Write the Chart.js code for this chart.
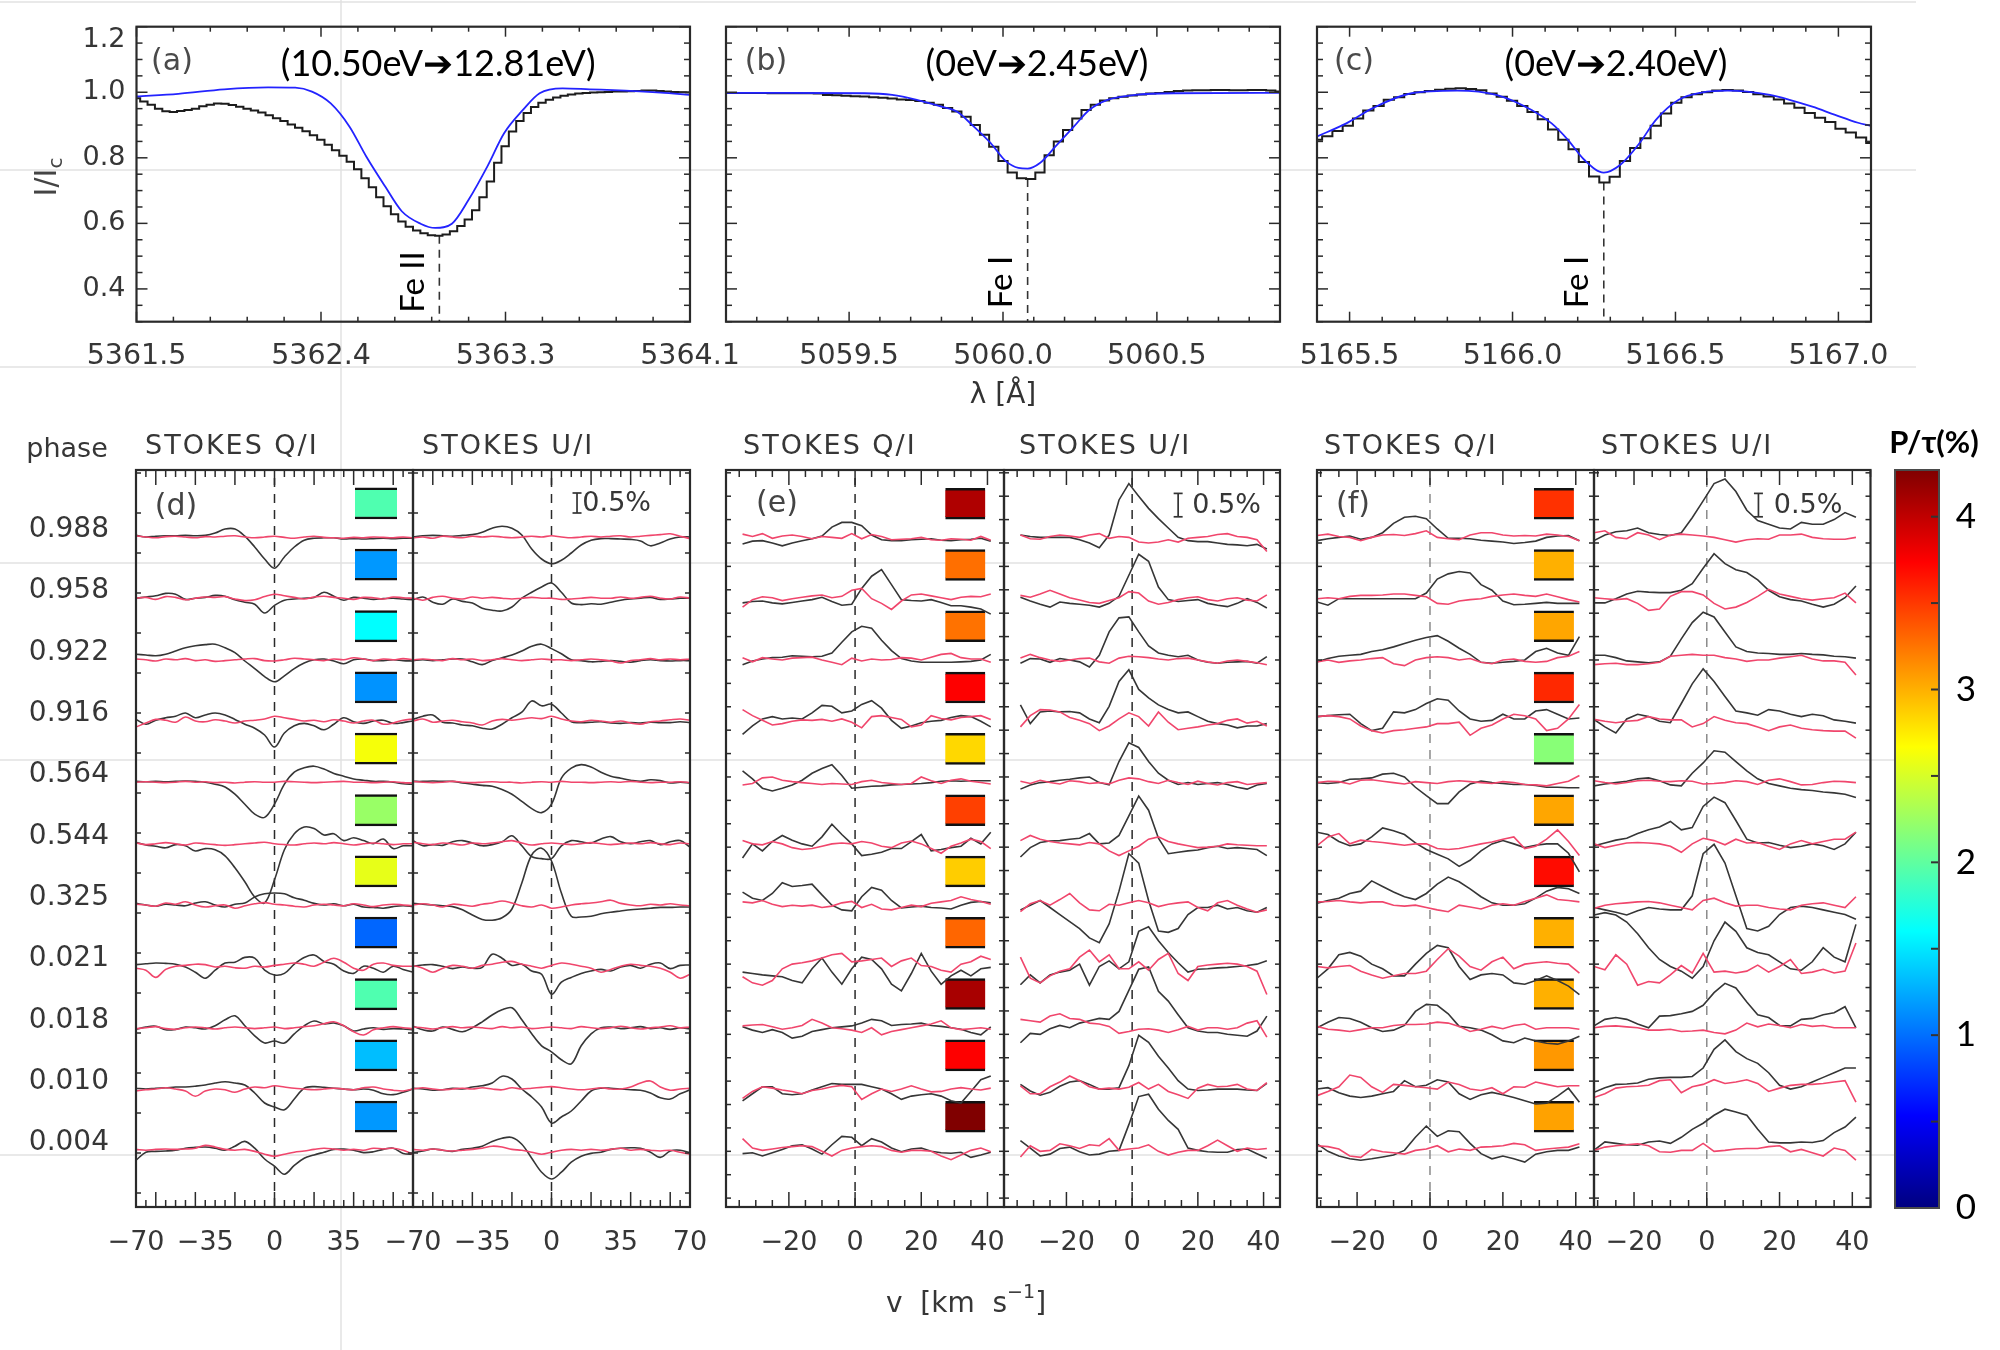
<!DOCTYPE html>
<html>
<head>
<meta charset="utf-8">
<script src="https://cdn.jsdelivr.net/npm/chart.js@4.4.0/dist/chart.umd.min.js"></script>
<style>
  html, body { margin: 0; padding: 0; background: #fff; }
  #wrap { position: relative; width: 2000px; height: 1350px; overflow: hidden; background: #fff; }
  #wrap canvas { position: absolute; left: 0; top: 0; }
</style>
</head>
<body>
<div id="wrap"></div>
<script>
// ---------- top row: intensity profiles ----------
const aBinStart = 5361.5, aBinWidth = 0.0353;
const aObs = [0.982,0.972,0.962,0.950,0.942,0.940,0.943,0.946,0.950,0.957,0.962,0.966,0.965,0.961,0.956,0.950,0.944,0.938,0.930,0.921,0.912,0.902,0.892,0.881,0.869,0.855,0.840,0.823,0.806,0.788,0.765,0.738,0.710,0.680,0.652,0.628,0.606,0.590,0.578,0.570,0.564,0.562,0.566,0.576,0.592,0.612,0.640,0.680,0.728,0.785,0.835,0.880,0.912,0.937,0.955,0.968,0.977,0.984,0.989,0.993,0.996,0.998,0.999,1.000,1.001,1.002,1.002,1.003,1.004,1.005,1.005,1.004,1.002,1.001,1.000,0.999];
const aFitLam = [5361.50,5361.70,5361.92,5362.13,5362.26,5362.34,5362.43,5362.52,5362.60,5362.69,5362.77,5362.86,5362.93,5363.01,5363.09,5363.18,5363.26,5363.35,5363.43,5363.54,5363.67,5363.84,5364.01,5364.15];
const aFit = [0.987,0.995,1.009,1.015,1.014,1.002,0.966,0.895,0.804,0.713,0.637,0.599,0.586,0.599,0.672,0.774,0.875,0.946,0.997,1.012,1.009,1.005,0.999,0.992];

const bBinStart = 5059.1, bBinWidth = 0.03;
const bObs = [0.998,0.998,0.998,0.998,0.998,0.997,0.997,0.997,0.997,0.997,0.996,0.992,0.991,0.989,0.988,0.987,0.985,0.983,0.981,0.978,0.976,0.973,0.968,0.962,0.952,0.941,0.925,0.900,0.870,0.834,0.790,0.755,0.738,0.735,0.755,0.808,0.850,0.885,0.920,0.946,0.962,0.975,0.982,0.986,0.990,0.993,0.996,0.998,1.001,1.004,1.005,1.006,1.006,1.007,1.007,1.006,1.006,1.007,1.007,1.005,1.002];
const bFitLam = [5059.10,5059.30,5059.55,5059.64,5059.72,5059.80,5059.85,5059.90,5059.96,5060.01,5060.05,5060.08,5060.12,5060.17,5060.23,5060.28,5060.34,5060.43,5060.56,5060.90];
const bFit = [0.998,0.998,0.997,0.992,0.977,0.956,0.941,0.900,0.845,0.789,0.769,0.767,0.784,0.834,0.895,0.946,0.977,0.992,0.997,0.998];

const cBinStart = 5165.4, cBinWidth = 0.0315;
const cObs = [0.855,0.866,0.882,0.898,0.920,0.944,0.958,0.977,0.985,0.995,1.000,1.004,1.008,1.011,1.012,1.010,1.006,0.996,0.986,0.974,0.958,0.940,0.918,0.886,0.855,0.826,0.787,0.743,0.725,0.742,0.790,0.830,0.860,0.898,0.935,0.968,0.985,0.994,1.000,1.005,1.007,1.005,1.001,0.994,0.987,0.978,0.966,0.953,0.937,0.922,0.909,0.889,0.877,0.862,0.845];
const cFitLam = [5165.40,5165.49,5165.57,5165.69,5165.83,5165.95,5166.06,5166.12,5166.17,5166.22,5166.28,5166.33,5166.39,5166.44,5166.51,5166.58,5166.66,5166.72,5166.79,5166.85,5166.92,5166.99,5167.06,5167.10];
const cFit = [0.865,0.905,0.951,0.997,1.005,0.992,0.945,0.905,0.855,0.794,0.755,0.778,0.845,0.916,0.977,0.999,1.005,1.002,0.992,0.977,0.956,0.931,0.907,0.897];

const lineCenters = [5362.95, 5060.08, 5166.28];
const lineDepths = [0.562, 0.735, 0.725];
const lineIons = ['Fe II', 'Fe I', 'Fe I'];
const transitions = ['(10.50eV\u279412.81eV)', '(0eV\u27942.45eV)', '(0eV\u27942.40eV)'];
const aTickLabels = ['5361.5', '5362.4', '5363.3', '5364.1'];

// ---------- bottom rows: Stokes Q/I and U/I (deviation in %) ----------
const phases = ['0.988','0.958','0.922','0.916','0.564','0.544','0.325','0.021','0.018','0.010','0.004'];
const dVel = [-70,-65,-60,-55,-50,-45,-40,-35,-30,-25,-20,-15,-10,-5,0,5,10,15,20,25,30,35,40,45,50,55,60,65,70];
const eVel = [-34,-31,-28,-25,-22,-19,-16,-13,-10,-7,-4,-1,2,5,8,11,14,17,20,23,26,29,32,35,38,41];
const fVel = [-31,-28,-25,-22,-19,-16,-13,-10,-7,-4,-1,2,5,8,11,14,17,20,23,26,29,32,35,38,41];

const dQobs = [
[0.04,0.00,0.02,0.03,0.03,0.04,0.03,0.04,0.10,0.20,0.20,0.02,-0.25,-0.55,-0.78,-0.50,-0.25,-0.08,-0.03,-0.02,-0.02,-0.05,-0.04,-0.05,-0.04,-0.03,-0.04,-0.03,-0.03],
[0.00,0.03,0.06,0.12,0.10,-0.03,0.00,0.02,0.07,0.05,-0.04,-0.10,-0.15,-0.37,-0.18,-0.05,-0.02,0.00,0.02,0.15,0.05,-0.05,0.02,0.00,-0.03,-0.01,0.00,-0.02,-0.04],
[0.14,0.12,0.10,0.14,0.22,0.30,0.35,0.38,0.39,0.30,0.18,-0.03,-0.22,-0.42,-0.55,-0.40,-0.22,-0.08,0.00,0.02,-0.03,-0.10,0.00,0.02,-0.02,-0.02,0.00,-0.02,-0.03],
[0.04,-0.08,0.02,0.08,0.12,0.20,0.08,0.15,0.20,0.15,0.04,-0.08,-0.18,-0.35,-0.65,-0.30,-0.12,-0.06,-0.12,-0.22,-0.08,0.08,-0.02,-0.06,0.00,0.02,-0.06,-0.04,0.00],
[0.02,0.01,0.02,0.01,0.02,0.03,0.02,0.00,-0.05,-0.12,-0.30,-0.55,-0.80,-0.88,-0.55,-0.05,0.25,0.36,0.40,0.33,0.22,0.15,0.08,0.05,0.02,0.02,0.00,-0.04,-0.05],
[0.04,-0.03,-0.06,-0.10,-0.02,-0.05,-0.18,-0.12,-0.15,-0.30,-0.60,-0.95,-1.33,-1.48,-0.90,-0.15,0.25,0.42,0.38,0.22,0.25,0.08,0.15,0.08,0.00,0.12,-0.12,-0.05,-0.05],
[0.04,0.00,-0.03,0.02,0.00,-0.02,0.05,0.08,0.00,-0.05,0.02,0.05,0.20,0.28,0.30,0.28,0.18,0.12,0.04,0.00,0.03,-0.02,0.02,-0.05,-0.06,-0.08,-0.04,-0.02,-0.04],
[0.04,0.06,0.08,0.07,0.05,-0.02,-0.15,-0.30,-0.10,0.08,0.10,0.22,0.20,-0.10,-0.22,-0.18,0.05,0.22,0.28,0.12,0.05,-0.12,-0.18,0.00,-0.05,-0.15,0.00,-0.08,-0.15],
[-0.04,0.02,0.04,-0.05,-0.04,0.02,0.00,-0.03,0.05,0.20,0.30,0.05,-0.20,-0.38,-0.33,-0.38,-0.15,0.05,0.17,0.10,0.12,0.05,-0.08,-0.03,0.00,-0.04,-0.02,-0.03,-0.05],
[0.02,0.00,0.02,0.03,0.05,0.05,0.07,0.10,0.15,0.18,0.15,0.10,-0.10,-0.35,-0.45,-0.52,-0.25,0.02,0.06,0.04,0.02,0.00,-0.02,0.00,-0.03,-0.12,-0.14,-0.08,0.00],
[-0.25,-0.05,-0.03,-0.02,0.00,0.05,0.07,0.08,0.05,0.00,0.10,0.22,0.05,-0.22,-0.40,-0.60,-0.38,-0.20,-0.12,-0.05,0.02,0.03,0.00,-0.06,-0.04,0.02,0.05,-0.08,-0.10]];
const dQnull = [
[0.03,0.00,-0.02,0.01,0.02,0.00,-0.02,0.01,0.00,0.02,0.03,0.00,-0.02,0.00,0.02,-0.01,-0.03,0.00,0.02,-0.01,-0.02,-0.03,-0.01,-0.02,0.00,-0.01,-0.02,0.00,-0.02],
[0.00,0.02,-0.03,0.04,0.02,-0.04,0.00,0.03,0.02,0.04,-0.02,-0.06,-0.04,0.04,0.10,0.06,0.02,-0.02,0.03,0.05,0.02,0.00,-0.03,0.02,0.01,-0.02,0.03,0.01,0.00],
[0.02,0.00,-0.03,0.02,0.00,0.03,-0.02,0.00,-0.04,-0.02,0.00,0.02,0.03,-0.02,-0.03,0.00,0.04,0.02,0.00,-0.02,0.02,0.00,0.05,0.02,-0.02,0.02,0.00,0.03,0.00],
[-0.15,-0.05,0.04,0.02,-0.03,0.10,0.00,-0.02,0.03,0.00,-0.05,0.00,0.02,0.05,0.12,0.08,0.04,0.00,0.02,-0.02,0.03,0.00,-0.05,0.00,0.02,-0.08,-0.05,0.02,0.05],
[0.00,0.01,0.00,-0.01,0.00,0.02,0.00,0.01,-0.01,0.00,-0.02,0.00,0.01,0.00,0.00,0.02,0.01,0.00,-0.01,0.00,0.01,0.02,0.00,0.00,-0.01,0.00,0.01,-0.01,-0.02],
[0.02,-0.02,0.00,0.03,0.00,-0.03,0.02,0.00,-0.02,-0.04,-0.02,0.00,0.02,0.04,0.00,-0.02,-0.03,0.00,0.02,0.00,0.03,0.00,-0.03,0.00,0.02,0.00,-0.02,0.00,0.00],
[0.02,0.00,-0.03,0.05,0.02,0.08,0.00,-0.05,-0.02,0.00,-0.08,-0.02,0.03,0.06,0.02,0.00,-0.03,-0.05,0.00,0.02,0.00,-0.02,0.03,0.00,-0.04,0.00,0.02,0.00,-0.02],
[-0.05,-0.10,-0.28,-0.08,0.00,0.02,0.05,0.04,-0.02,0.00,-0.04,-0.05,0.00,-0.02,0.02,0.05,0.08,0.05,0.00,0.10,0.20,0.10,-0.05,-0.10,0.05,0.08,0.02,0.00,0.00],
[-0.02,0.00,0.03,-0.02,-0.04,0.00,0.02,0.00,-0.03,0.00,0.02,0.00,-0.02,0.00,0.02,-0.02,0.00,0.03,0.05,0.10,0.15,0.05,-0.10,-0.18,-0.05,0.00,0.03,0.00,-0.02],
[-0.05,-0.02,0.00,0.03,0.00,-0.05,-0.18,-0.05,0.00,-0.02,-0.08,0.00,0.05,0.03,0.08,0.05,0.02,0.00,-0.02,0.00,0.02,0.00,-0.02,0.03,0.05,0.00,-0.03,-0.05,0.00],
[0.02,0.00,0.02,0.03,0.02,0.03,0.05,0.12,0.08,0.02,0.00,0.02,-0.03,-0.10,-0.15,-0.10,-0.05,-0.02,0.02,0.05,0.03,0.00,0.02,0.00,0.05,0.03,0.05,0.00,-0.10]];
const dUobs = [
[0.00,0.03,0.04,0.03,0.02,0.04,0.06,0.12,0.22,0.27,0.22,0.05,-0.30,-0.55,-0.67,-0.58,-0.40,-0.20,-0.08,-0.04,-0.04,-0.05,-0.06,-0.10,-0.22,-0.15,-0.05,0.00,0.00],
[-0.04,0.03,-0.10,-0.15,-0.02,-0.08,-0.12,-0.25,-0.30,-0.32,-0.22,0.00,0.15,0.28,0.38,0.15,-0.12,-0.16,-0.14,-0.15,-0.10,-0.05,-0.02,0.00,0.02,-0.03,-0.02,0.00,0.00],
[-0.02,0.00,-0.02,0.00,0.02,0.02,-0.05,-0.12,-0.02,0.05,0.12,0.22,0.34,0.39,0.28,0.15,0.00,-0.02,-0.05,-0.04,-0.02,-0.04,-0.06,-0.02,0.00,-0.02,-0.03,-0.02,-0.02],
[0.04,0.12,0.15,-0.03,-0.05,-0.10,-0.12,-0.18,-0.20,-0.08,0.08,0.22,0.50,0.38,0.42,0.20,-0.02,-0.04,-0.03,-0.02,-0.05,-0.06,-0.04,-0.05,-0.03,-0.04,-0.04,-0.02,-0.04],
[0.02,0.02,0.03,0.02,0.02,-0.02,-0.05,-0.08,-0.10,-0.18,-0.30,-0.48,-0.66,-0.76,-0.55,0.10,0.35,0.44,0.38,0.25,0.15,0.10,0.05,0.02,0.06,0.04,-0.02,0.00,-0.02],
[0.08,-0.05,-0.02,-0.04,0.05,0.08,0.02,-0.05,-0.02,0.05,0.20,-0.05,-0.32,-0.37,-0.37,-0.05,0.08,0.05,0.02,0.12,0.18,0.05,0.00,0.05,0.08,-0.02,0.05,0.08,-0.08],
[0.04,0.02,0.00,-0.02,-0.04,-0.12,-0.25,-0.36,-0.38,-0.32,-0.10,0.55,1.25,1.42,1.10,0.30,-0.28,-0.30,-0.28,-0.22,-0.18,-0.15,-0.12,-0.10,-0.08,-0.06,-0.06,-0.05,-0.05],
[0.00,0.03,0.04,0.00,-0.06,-0.02,-0.05,-0.03,0.30,0.20,0.02,0.05,-0.12,-0.20,-0.70,-0.40,-0.28,-0.18,-0.12,-0.08,-0.12,-0.02,0.02,-0.05,0.05,0.08,-0.06,0.02,0.03],
[0.04,-0.05,-0.08,0.02,-0.04,-0.10,0.00,0.15,0.32,0.45,0.50,0.20,-0.15,-0.45,-0.60,-0.80,-0.90,-0.45,-0.15,0.00,0.02,-0.02,0.00,0.03,-0.02,0.00,-0.04,0.00,-0.03],
[0.02,0.00,-0.03,-0.02,0.02,0.00,0.05,0.08,0.15,0.32,0.25,0.00,-0.20,-0.45,-0.85,-0.70,-0.55,-0.30,-0.05,0.02,0.02,0.00,-0.02,-0.03,-0.10,-0.22,-0.25,-0.12,-0.02],
[-0.06,-0.02,0.03,0.00,-0.03,0.02,0.05,0.10,0.22,0.30,0.32,0.15,-0.20,-0.55,-0.72,-0.55,-0.30,-0.15,-0.08,-0.05,0.02,0.05,0.06,0.05,-0.05,-0.18,-0.02,0.00,-0.06]];
const dUnull = [
[-0.02,0.00,-0.03,0.02,0.00,-0.02,0.02,0.00,0.02,0.00,-0.02,0.00,0.02,0.00,0.03,0.00,-0.02,0.00,0.02,0.00,0.02,0.03,0.00,0.02,0.04,0.06,0.08,0.02,-0.04],
[0.00,-0.05,0.02,0.05,0.00,-0.02,0.03,0.00,0.02,0.00,-0.02,0.00,0.02,0.00,0.00,-0.03,-0.02,0.00,0.02,0.00,0.00,0.03,0.00,0.02,0.05,0.00,-0.02,0.03,0.00],
[0.00,0.02,0.00,-0.02,0.03,0.00,0.02,-0.02,0.00,0.03,0.00,-0.02,0.00,0.02,0.00,0.00,-0.02,0.00,0.02,0.00,-0.03,-0.08,-0.02,0.00,0.03,0.00,0.02,0.00,0.02],
[0.00,0.05,-0.03,0.00,0.02,-0.02,-0.05,-0.10,0.00,0.04,0.02,0.05,0.08,0.06,0.12,0.05,0.00,-0.02,0.02,0.00,-0.03,0.00,-0.05,-0.08,-0.02,0.00,0.03,0.05,0.02],
[0.02,0.00,-0.01,0.00,0.02,0.00,-0.01,0.00,0.01,0.00,0.00,-0.02,0.00,0.01,0.00,0.02,0.00,0.00,-0.01,0.00,0.01,0.00,0.02,0.00,-0.01,0.00,0.00,0.01,-0.01],
[0.04,0.00,-0.02,0.02,0.00,-0.03,0.02,0.00,0.02,0.05,0.08,0.02,-0.03,0.00,0.02,0.00,-0.02,0.00,0.03,0.00,-0.02,0.00,0.02,0.00,0.03,0.00,-0.02,0.02,0.00],
[0.00,0.03,0.00,-0.05,0.02,0.00,-0.03,0.02,0.05,0.10,0.05,-0.02,-0.05,0.00,-0.08,-0.05,0.00,0.03,0.05,0.08,0.12,0.04,0.00,-0.02,0.02,0.00,0.03,0.00,-0.02],
[0.02,-0.05,-0.15,-0.05,0.02,0.00,-0.05,0.02,0.05,0.10,0.12,0.05,0.00,-0.05,0.02,0.08,0.05,0.00,-0.05,-0.15,-0.08,0.00,0.05,0.02,0.00,-0.05,-0.15,-0.30,-0.20],
[0.02,0.00,-0.03,0.00,0.03,0.00,0.02,0.00,-0.02,0.03,0.00,0.02,-0.02,0.00,0.02,0.00,-0.02,0.03,0.00,-0.02,0.00,0.04,0.00,-0.03,0.00,0.02,0.05,0.00,0.02],
[0.00,0.03,0.00,-0.02,0.00,0.02,0.00,0.03,0.00,-0.02,0.03,0.00,0.02,0.04,0.06,0.03,0.00,-0.02,0.00,0.03,0.00,0.00,0.05,0.15,0.20,0.05,-0.03,0.00,0.02],
[0.02,0.00,0.03,0.00,-0.02,0.00,0.02,0.05,0.10,0.08,0.02,0.00,-0.05,-0.10,-0.05,0.00,0.02,0.00,0.02,0.00,0.02,0.05,0.00,0.02,0.00,-0.02,0.00,-0.05,-0.10]];

const eQobs = [
[-0.14,-0.08,-0.07,-0.12,-0.18,-0.12,-0.07,-0.03,0.03,0.22,0.32,0.32,0.25,0.05,-0.05,-0.07,-0.07,-0.05,-0.04,-0.03,-0.06,-0.07,-0.05,-0.04,-0.02,-0.08],
[-0.09,-0.06,-0.05,-0.09,-0.11,-0.08,-0.05,-0.02,0.03,-0.06,-0.14,-0.12,0.22,0.48,0.62,0.30,-0.02,-0.04,-0.05,-0.02,-0.08,-0.15,-0.15,-0.18,-0.22,-0.33],
[-0.10,-0.02,0.02,0.05,0.06,0.09,0.08,0.07,0.08,0.15,0.38,0.60,0.72,0.68,0.42,0.20,0.03,-0.02,-0.05,-0.05,-0.05,-0.05,-0.04,-0.03,0.00,0.12],
[-0.28,-0.10,0.05,0.10,0.05,0.07,0.05,0.18,0.34,0.32,0.18,0.22,0.36,0.44,0.28,0.02,-0.15,-0.10,-0.03,0.00,0.02,0.08,0.12,0.10,0.00,-0.12],
[0.25,0.08,-0.12,-0.18,-0.12,-0.05,0.05,0.20,0.30,0.38,0.15,-0.12,-0.10,-0.08,-0.07,-0.05,-0.04,-0.03,-0.02,0.00,0.03,0.04,0.03,0.04,0.04,0.04],
[-0.30,0.00,-0.15,0.05,0.18,0.08,0.00,-0.05,0.15,0.42,0.20,0.00,-0.25,-0.22,-0.18,-0.10,-0.10,0.05,0.20,-0.15,-0.12,-0.08,-0.05,0.12,0.00,0.25],
[0.28,0.15,0.10,0.25,0.48,0.40,0.42,0.45,0.22,0.00,-0.10,-0.12,0.18,0.38,0.32,0.10,-0.06,-0.04,-0.02,-0.05,-0.06,-0.08,0.00,0.06,0.08,0.05],
[-0.12,-0.15,-0.18,-0.20,-0.22,-0.30,-0.35,-0.05,0.18,-0.12,-0.38,-0.05,0.20,0.15,-0.05,-0.38,-0.52,-0.15,0.28,-0.10,-0.38,-0.20,-0.08,-0.20,-0.05,-0.02],
[0.02,-0.05,-0.10,-0.04,-0.10,-0.22,-0.18,-0.08,-0.04,0.00,0.02,0.04,0.10,0.18,0.15,0.05,0.07,0.08,0.10,0.05,0.03,0.00,-0.03,-0.10,-0.15,0.02],
[-0.25,-0.10,0.05,0.05,-0.10,-0.12,-0.10,-0.02,0.05,0.12,0.10,0.10,0.10,0.05,0.00,-0.10,-0.22,-0.15,-0.12,-0.10,-0.15,-0.25,-0.30,-0.05,0.20,0.28],
[-0.07,-0.05,-0.12,-0.05,0.02,0.10,0.12,0.03,-0.08,0.12,0.30,0.28,0.10,0.25,0.18,0.05,-0.03,0.03,0.05,-0.02,-0.05,-0.06,-0.04,-0.15,-0.10,-0.04]];
const eQnull = [
[0.07,0.02,0.08,-0.02,0.03,0.05,0.02,-0.03,0.02,0.00,-0.02,0.08,-0.03,0.06,0.02,-0.05,-0.04,-0.03,0.00,-0.05,-0.06,-0.03,-0.04,-0.06,0.02,-0.06],
[-0.18,-0.02,0.04,0.02,-0.04,0.00,0.03,0.06,0.08,0.02,0.05,0.18,0.22,0.00,-0.10,-0.23,-0.05,0.08,0.10,0.06,0.02,-0.02,0.03,0.05,0.04,0.10],
[0.05,-0.04,0.05,0.02,0.00,0.04,0.05,0.06,0.00,-0.05,-0.10,0.04,-0.02,0.02,0.00,0.01,0.05,0.04,0.00,0.06,0.12,0.14,0.05,0.02,0.02,-0.05],
[0.25,0.12,0.02,-0.08,-0.05,0.00,0.03,0.02,0.04,0.00,0.05,-0.02,-0.14,0.10,0.12,0.08,0.04,-0.12,-0.08,0.12,0.06,0.03,0.08,0.10,0.12,0.04],
[-0.05,-0.02,0.10,0.12,0.05,0.02,0.00,-0.02,-0.04,-0.02,-0.03,-0.04,0.02,0.05,0.00,-0.02,-0.04,-0.02,0.12,0.04,-0.02,0.05,0.08,0.03,0.00,-0.03],
[0.07,0.00,-0.02,0.05,0.00,-0.08,-0.12,-0.10,-0.05,0.00,0.02,0.00,0.05,0.02,-0.05,-0.08,0.02,0.06,0.00,-0.10,-0.20,-0.05,0.02,0.10,0.05,-0.10],
[0.07,0.05,0.10,0.02,-0.03,0.00,-0.02,0.00,-0.05,-0.02,0.05,0.08,-0.05,0.02,-0.08,-0.10,-0.05,0.00,-0.03,0.04,0.07,0.10,0.18,0.12,0.08,0.02],
[-0.22,-0.35,-0.40,-0.30,-0.05,0.05,0.08,0.12,0.18,0.25,0.28,0.10,0.12,0.15,0.18,0.00,0.12,0.18,0.02,0.00,-0.08,-0.12,0.05,0.10,0.22,0.15],
[0.04,0.06,0.07,0.02,-0.03,0.00,0.05,0.18,0.10,0.00,-0.02,-0.05,-0.10,0.00,-0.15,-0.08,-0.04,0.00,0.04,0.08,0.15,0.00,-0.04,-0.02,0.00,-0.03],
[-0.20,-0.05,0.05,0.02,-0.02,-0.05,-0.10,-0.03,0.00,0.05,0.08,0.05,-0.22,-0.10,0.00,-0.05,0.00,0.07,0.00,-0.06,-0.05,0.00,0.03,0.00,-0.02,0.02],
[0.25,0.05,0.00,0.03,0.06,0.08,0.10,0.08,-0.02,-0.12,0.00,0.05,0.08,0.10,0.08,0.00,-0.04,0.00,0.00,-0.02,-0.12,-0.20,-0.10,0.00,0.05,-0.03]];
const eUobs = [
[0.05,0.02,0.00,0.00,0.00,0.00,-0.05,-0.12,-0.22,0.05,0.80,1.15,0.88,0.62,0.40,0.20,0.00,-0.07,-0.09,-0.09,-0.12,-0.15,-0.16,-0.18,-0.15,-0.25],
[0.03,-0.05,-0.12,-0.18,-0.07,-0.10,-0.12,-0.14,-0.18,-0.10,0.05,0.50,0.95,0.80,0.25,-0.02,-0.06,-0.04,-0.02,-0.10,-0.14,-0.17,-0.10,0.00,-0.08,-0.20],
[-0.07,0.03,0.02,-0.05,0.03,0.00,-0.04,-0.15,0.10,0.60,0.90,0.92,0.60,0.30,0.15,0.10,0.07,0.10,0.00,-0.05,-0.07,-0.05,-0.04,-0.03,-0.07,0.07],
[0.35,-0.05,0.20,0.22,0.20,0.21,0.18,0.05,-0.03,0.32,0.85,1.10,0.68,0.50,0.35,0.25,0.18,0.20,0.10,0.00,-0.05,-0.08,-0.14,-0.10,-0.10,-0.05],
[-0.14,-0.05,0.00,0.02,0.05,0.07,0.10,0.12,0.00,-0.05,0.45,0.85,0.75,0.45,0.20,0.05,-0.04,0.00,-0.04,-0.02,0.00,-0.04,-0.10,-0.14,-0.05,-0.02],
[-0.28,-0.08,0.03,0.06,0.07,0.10,0.12,0.22,0.00,0.02,0.18,0.60,1.02,0.72,0.12,-0.21,-0.18,-0.15,-0.13,-0.08,-0.05,-0.10,-0.08,-0.10,-0.12,-0.25],
[-0.10,0.00,0.10,-0.05,-0.20,-0.35,-0.50,-0.70,-0.80,-0.40,0.30,1.10,0.90,0.10,-0.55,-0.58,-0.50,-0.20,-0.05,-0.05,0.00,-0.08,-0.05,-0.12,-0.15,-0.05],
[-0.39,-0.18,-0.35,-0.18,-0.12,-0.08,0.05,-0.40,0.00,0.12,-0.05,0.10,0.75,0.85,0.55,0.30,0.08,-0.12,-0.06,-0.05,-0.03,-0.02,0.00,0.02,0.05,0.12],
[-0.32,-0.12,-0.14,-0.02,0.05,0.00,0.10,0.15,0.20,0.18,0.35,0.80,1.25,1.30,0.78,0.57,0.28,0.00,-0.07,-0.10,-0.10,-0.14,-0.16,-0.18,-0.07,0.25],
[0.10,-0.04,-0.13,-0.07,0.06,0.15,0.18,0.10,0.00,0.00,0.03,0.50,1.15,1.00,0.70,0.45,0.18,0.00,-0.03,-0.02,0.00,0.00,0.00,-0.02,-0.03,0.12],
[0.21,0.05,-0.12,-0.08,0.04,0.07,-0.03,-0.10,-0.08,-0.02,0.00,0.55,1.15,1.20,0.88,0.64,0.45,0.05,0.00,-0.03,-0.04,-0.04,0.02,0.03,-0.07,-0.17]];
const eUnull = [
[0.05,-0.03,-0.04,0.02,0.05,0.03,0.00,0.05,0.08,-0.02,0.02,0.00,-0.10,-0.12,-0.10,-0.05,-0.10,-0.02,0.00,0.02,0.06,0.08,0.02,0.00,-0.05,-0.30],
[0.07,0.03,0.10,0.18,0.10,0.02,-0.03,-0.08,-0.10,-0.04,0.02,0.15,0.12,-0.05,-0.12,-0.08,-0.02,0.02,0.04,-0.02,-0.05,0.00,0.02,-0.03,-0.05,0.08],
[0.04,0.12,0.05,0.00,-0.03,0.00,0.03,0.04,-0.04,-0.07,0.04,0.08,0.07,0.05,0.02,0.00,0.03,0.04,0.00,-0.04,-0.07,-0.02,0.00,-0.03,-0.06,-0.10],
[-0.12,0.12,0.25,0.24,0.20,0.08,0.02,-0.05,-0.20,-0.10,0.05,0.18,0.10,-0.10,0.20,-0.02,-0.18,-0.15,-0.12,-0.08,-0.05,0.02,0.05,-0.04,0.00,-0.10],
[0.03,-0.02,0.05,0.00,-0.03,0.04,0.02,-0.02,0.00,-0.03,0.05,0.10,0.08,0.02,-0.02,0.05,0.00,-0.04,0.03,-0.02,-0.05,0.00,0.02,-0.04,-0.02,0.00],
[0.07,0.18,0.10,0.05,0.02,0.00,-0.02,0.03,0.00,-0.15,-0.25,-0.15,-0.05,0.10,0.15,0.05,0.00,-0.04,-0.08,-0.07,-0.05,0.00,-0.02,-0.03,-0.04,-0.04],
[-0.14,0.03,0.10,0.00,0.12,0.25,0.05,-0.10,-0.12,0.02,0.00,0.05,0.10,0.05,-0.03,0.02,0.05,0.07,-0.05,-0.12,0.05,0.10,0.00,-0.08,-0.15,-0.10],
[0.20,-0.25,-0.35,-0.20,-0.10,-0.05,0.20,0.35,0.10,0.25,-0.05,-0.05,0.10,-0.08,0.15,0.28,-0.15,-0.30,0.00,0.03,0.05,0.07,0.05,0.00,-0.10,-0.60],
[0.18,0.15,0.12,0.25,0.30,0.20,0.18,0.10,0.08,0.03,-0.12,-0.08,-0.03,-0.02,-0.05,-0.10,-0.04,0.03,-0.05,0.00,0.00,-0.03,0.00,0.10,0.15,-0.20],
[0.07,-0.10,-0.10,0.05,0.15,0.28,0.18,0.05,0.00,0.02,0.00,0.04,0.14,0.00,0.10,-0.05,-0.12,-0.20,0.02,0.10,0.05,0.06,0.10,0.00,-0.03,0.14],
[-0.14,0.10,-0.02,0.00,0.14,0.10,0.04,0.12,0.10,0.25,0.00,0.03,0.05,0.12,-0.02,-0.10,-0.04,0.00,0.00,0.10,0.22,0.10,-0.02,0.05,0.02,0.04]];

const fQobs = [
[-0.07,-0.03,0.00,0.03,-0.04,0.00,0.10,0.30,0.43,0.45,0.40,0.18,-0.02,-0.02,-0.03,-0.06,-0.08,-0.10,-0.13,-0.11,-0.08,0.00,0.03,0.04,-0.07],
[-0.07,-0.14,0.00,0.00,0.00,0.00,0.00,0.00,0.00,0.00,0.12,0.42,0.53,0.58,0.55,0.30,0.18,-0.05,-0.13,-0.12,-0.10,-0.08,-0.10,-0.10,-0.10],
[-0.04,0.03,0.08,0.10,0.12,0.18,0.22,0.28,0.35,0.42,0.48,0.52,0.40,0.25,0.12,-0.05,-0.07,-0.05,-0.03,0.00,0.18,0.25,0.15,0.10,0.50],
[0.10,0.12,0.14,0.15,-0.05,-0.20,-0.15,0.20,0.18,0.25,0.38,0.48,0.45,0.22,0.05,0.00,0.02,0.15,0.05,0.05,0.22,0.25,0.15,0.05,0.07],
[0.00,-0.02,0.00,0.07,0.08,0.10,0.18,0.20,0.12,-0.10,-0.28,-0.45,-0.45,-0.20,-0.03,0.03,0.00,-0.02,-0.04,-0.04,-0.06,-0.10,-0.10,-0.11,-0.11],
[0.25,0.20,0.05,-0.04,0.00,0.15,0.34,0.28,0.20,0.02,-0.12,-0.22,-0.32,-0.48,-0.35,-0.15,0.00,0.07,0.00,-0.08,-0.03,0.00,0.00,-0.20,-0.60],
[0.04,0.10,0.15,0.25,0.30,0.52,0.40,0.28,0.18,0.12,0.25,0.45,0.60,0.50,0.35,0.18,0.05,0.00,0.00,0.03,0.15,0.30,0.38,0.35,0.25],
[-0.25,-0.05,0.25,0.30,0.22,0.05,-0.05,-0.20,-0.20,0.05,0.28,0.45,0.40,0.00,-0.28,-0.18,-0.15,-0.18,-0.35,-0.38,-0.30,-0.20,-0.30,-0.42,-0.60],
[0.00,0.12,0.22,0.20,0.12,0.00,-0.08,-0.05,0.05,0.35,0.50,0.48,0.30,0.03,0.00,-0.05,-0.15,-0.28,-0.32,-0.22,-0.28,-0.33,-0.35,-0.28,-0.18],
[0.00,0.03,-0.08,-0.15,-0.18,-0.15,-0.10,-0.05,0.18,0.05,0.08,0.20,0.15,-0.10,-0.22,-0.12,-0.07,-0.12,-0.18,-0.25,-0.32,-0.30,-0.15,0.02,-0.28],
[0.14,-0.02,-0.12,-0.18,-0.21,-0.18,-0.14,-0.10,0.00,0.28,0.52,0.30,0.42,0.40,0.15,-0.07,-0.18,-0.12,-0.18,-0.25,-0.08,-0.03,0.00,0.00,0.07]];
const fQnull = [
[0.04,0.07,0.02,0.00,-0.07,0.00,0.05,0.06,0.04,0.08,0.14,0.00,-0.03,-0.05,0.05,0.10,0.10,0.05,0.03,0.04,0.03,0.07,0.05,0.02,-0.07],
[0.00,0.02,0.00,0.05,0.07,0.07,0.08,0.10,0.10,0.07,0.04,-0.10,-0.12,-0.05,-0.02,0.00,0.05,0.08,0.10,0.07,0.05,0.10,0.04,-0.02,-0.07],
[-0.04,0.00,-0.05,-0.02,0.00,0.03,0.05,-0.08,-0.12,0.00,0.05,0.07,0.05,0.00,0.03,-0.05,-0.08,0.00,0.02,-0.03,-0.05,-0.03,0.05,0.08,0.18],
[0.10,0.12,0.10,0.05,-0.10,-0.20,-0.25,-0.20,-0.18,-0.15,-0.12,-0.05,-0.05,-0.02,-0.30,-0.15,-0.08,0.05,0.15,0.12,0.05,-0.20,-0.15,0.05,0.36],
[0.00,0.03,0.02,-0.03,0.05,0.06,0.03,0.00,-0.03,0.02,0.00,-0.02,0.02,0.04,0.02,0.00,-0.02,0.02,0.00,-0.04,-0.05,-0.07,-0.02,0.03,0.15],
[-0.04,0.15,0.22,0.00,0.08,0.05,0.03,0.00,-0.03,0.00,0.00,-0.10,-0.12,-0.10,-0.05,0.00,0.04,0.10,0.15,-0.10,-0.05,0.10,0.30,0.05,-0.25],
[0.07,0.08,0.10,0.07,0.05,0.07,0.07,0.00,-0.02,0.00,-0.05,-0.10,-0.14,0.00,-0.04,-0.08,0.00,0.03,0.00,0.08,0.15,0.22,0.12,0.10,0.07],
[0.00,-0.03,0.00,0.02,-0.10,-0.18,-0.25,-0.20,-0.15,-0.15,-0.10,0.15,0.38,0.22,0.00,-0.08,0.10,0.20,-0.05,0.05,0.08,0.10,0.07,0.05,-0.14],
[0.03,-0.03,-0.05,-0.08,-0.04,0.00,0.00,0.05,0.07,0.07,0.08,0.12,0.10,0.03,-0.08,-0.03,0.03,-0.02,0.05,0.08,-0.03,0.00,0.00,0.00,-0.03],
[-0.14,-0.05,0.05,0.30,0.25,0.05,-0.07,0.10,0.08,0.05,0.03,0.00,0.15,0.10,0.00,-0.03,0.03,-0.10,0.05,0.04,0.15,0.10,0.05,0.07,0.07],
[0.10,0.08,0.03,-0.12,-0.15,0.02,-0.03,-0.05,-0.08,0.00,0.03,0.10,-0.03,0.03,0.00,0.07,0.08,0.10,0.15,0.12,0.00,0.03,0.05,0.07,0.14]];
const fUobs = [
[-0.07,0.05,0.12,0.14,0.20,0.10,0.06,0.04,0.10,0.42,0.78,1.15,1.25,0.98,0.58,0.36,0.28,0.20,0.18,0.32,0.28,0.28,0.38,0.53,0.43],
[-0.09,-0.09,0.00,0.10,0.16,0.14,0.13,0.13,0.18,0.32,0.65,0.96,0.75,0.62,0.56,0.40,0.18,0.04,-0.02,-0.05,-0.12,-0.18,-0.12,0.02,0.27],
[0.10,0.10,0.05,-0.02,-0.04,-0.06,-0.04,0.08,0.45,0.80,1.02,0.92,0.60,0.28,0.18,0.15,0.14,0.12,0.12,0.14,0.12,0.11,0.08,0.07,0.04],
[0.04,-0.12,-0.25,0.05,0.15,0.10,0.00,-0.03,0.38,0.80,1.12,0.85,0.53,0.22,0.18,0.13,0.25,0.22,0.15,0.10,0.15,0.12,0.03,0.00,-0.04],
[-0.07,-0.03,0.00,0.03,0.08,0.10,0.04,-0.05,-0.07,0.20,0.42,0.68,0.65,0.45,0.25,0.08,-0.02,-0.07,-0.12,-0.15,-0.17,-0.20,-0.22,-0.25,-0.32],
[-0.04,0.02,0.08,0.12,0.22,0.30,0.36,0.48,0.30,0.35,0.80,1.00,0.88,0.50,0.10,0.02,0.03,-0.03,-0.08,-0.05,0.00,-0.04,-0.12,0.00,0.25],
[-0.05,-0.10,-0.15,-0.21,-0.12,-0.05,-0.08,-0.10,-0.10,0.20,1.10,1.30,0.90,0.20,-0.50,-0.55,-0.45,-0.20,-0.05,-0.02,-0.05,-0.10,-0.15,-0.20,-0.30],
[1.10,1.15,1.10,0.95,0.70,0.40,0.15,0.00,-0.10,-0.25,0.00,0.55,0.95,0.75,0.40,0.30,0.25,0.10,-0.05,-0.08,0.10,0.40,0.20,0.10,0.90],
[0.04,0.18,0.22,0.18,0.08,0.00,0.25,0.26,0.30,0.35,0.48,0.75,0.95,0.85,0.55,0.28,0.22,0.05,0.04,0.18,0.20,0.28,0.32,0.45,0.00],
[-0.07,0.03,0.10,0.11,0.13,0.21,0.24,0.25,0.25,0.27,0.45,0.85,1.05,0.80,0.65,0.55,0.35,0.08,0.00,0.05,0.15,0.25,0.35,0.45,0.45],
[0.00,0.18,0.15,0.12,0.11,0.18,0.20,0.15,0.28,0.45,0.58,0.75,0.88,0.82,0.75,0.45,0.18,0.16,0.16,0.18,0.17,0.21,0.38,0.50,0.71]];
const fUnull = [
[0.10,0.14,0.00,-0.03,0.10,0.05,-0.05,0.05,0.07,0.05,0.03,0.00,-0.05,-0.10,-0.05,-0.03,-0.04,0.05,0.05,0.07,0.00,-0.03,-0.04,-0.04,0.00],
[0.02,0.00,-0.02,0.00,-0.10,-0.25,-0.22,0.05,0.15,0.15,0.08,-0.10,-0.22,-0.18,-0.08,0.05,0.20,0.10,0.05,0.00,-0.03,0.00,0.02,0.12,-0.09],
[-0.10,-0.08,-0.07,-0.10,-0.10,-0.08,-0.05,0.08,0.10,0.12,0.10,0.10,0.05,0.02,-0.03,0.00,0.00,0.04,0.07,0.10,0.02,-0.02,-0.02,-0.05,-0.32],
[0.04,0.00,-0.03,0.00,0.02,0.10,0.05,0.03,0.03,-0.12,-0.05,0.10,0.02,-0.03,-0.05,-0.12,-0.20,-0.12,-0.08,-0.15,-0.18,-0.20,-0.21,-0.21,-0.36],
[0.04,0.00,-0.03,0.00,0.04,0.05,0.03,0.02,0.04,0.03,-0.03,-0.02,0.00,0.04,0.02,-0.04,0.05,0.08,0.02,-0.05,-0.04,0.00,0.03,0.02,0.00],
[0.00,-0.08,-0.03,0.02,0.03,0.02,0.00,-0.05,-0.18,0.00,0.12,0.07,-0.02,0.10,0.02,0.03,-0.05,-0.12,0.00,0.07,0.00,0.05,0.10,0.10,0.25],
[-0.07,0.00,0.03,0.05,0.07,0.08,0.05,0.00,-0.05,-0.10,0.10,0.15,0.05,-0.02,0.00,0.00,-0.05,-0.08,-0.10,0.00,0.03,0.05,0.00,-0.05,0.18],
[0.00,-0.07,0.25,0.05,-0.40,-0.32,-0.35,-0.18,0.02,-0.14,0.28,-0.12,-0.10,-0.14,-0.10,0.03,-0.12,0.00,0.15,-0.15,-0.12,-0.06,-0.14,-0.10,0.50],
[0.00,0.03,0.04,0.02,0.00,-0.05,-0.05,-0.03,-0.08,-0.07,-0.05,-0.10,-0.13,-0.05,0.10,0.02,0.08,0.05,0.00,0.07,0.03,0.05,0.00,0.00,0.00],
[-0.18,-0.10,0.02,0.05,0.06,0.08,0.18,0.20,-0.08,0.05,0.10,0.20,0.12,0.15,0.20,0.12,-0.05,0.02,0.08,0.10,0.10,0.12,0.15,0.18,-0.28],
[0.00,0.07,0.10,0.12,0.14,0.10,-0.03,-0.04,0.00,0.00,0.15,-0.02,0.00,0.03,0.04,0.04,0.08,0.10,-0.03,0.02,-0.05,-0.12,0.05,0.00,-0.21]];

// degree of polarisation per phase (colour squares, %)
const dPol = [1.93,1.17,1.60,1.15,2.63,2.24,2.57,0.96,1.93,1.33,1.17];
const ePol = [4.07,3.27,3.26,3.74,2.83,3.47,2.88,3.31,4.10,3.74,4.27];
const fPol = [3.53,3.00,3.04,3.57,2.17,3.04,3.69,3.00,3.00,3.10,3.06];
const polMax = 4.27;
const polTicks = [0, 1, 2, 3, 4];

// ---------- layout ----------
const W = 2000, H = 1350;
const IDL = '"DejaVu Sans", sans-serif';
const SANS = 'Lato, "Open Sans", "Noto Sans", sans-serif';
const INK = '#363636';
const rowShiftD = [16.4, 14.87, 13.33, 11.8, 10.27, 8.73, 7.2, 5.67, 4.13, 2.6, 1.07];
const rowShiftEF = [14.12, 12.81, 11.5, 10.19, 8.88, 7.57, 6.26, 4.95, 3.64, 2.33, 1.02];

function addCanvas() {
  const c = document.createElement('canvas');
  c.width = W; c.height = H;
  document.getElementById('wrap').appendChild(c);
  return c;
}
function seq(a, b, step) {
  const out = [], n = Math.round((b - a) / step);
  for (let i = 0; i <= n; i++) out.push(+(a + i * step).toFixed(6));
  return out;
}
function seg(ctx, x1, y1, x2, y2) {
  ctx.beginPath(); ctx.moveTo(x1, y1); ctx.lineTo(x2, y2); ctx.stroke();
}
function jet(v) {
  const t = Math.min(Math.max(v / polMax, 0), 1);
  const c = f => Math.round(255 * Math.min(Math.max(f, 0), 1));
  return `rgb(${c(1.5 - Math.abs(4 * t - 3))},${c(1.5 - Math.abs(4 * t - 2))},${c(1.5 - Math.abs(4 * t - 1))})`;
}
function baseOptions(frame, xs, ys) {
  return {
    responsive: false, animation: false, devicePixelRatio: 1, events: [],
    layout: { padding: { left: frame[0], top: frame[1], right: W - frame[2], bottom: H - frame[3] } },
    plugins: { legend: { display: false }, tooltip: { enabled: false } },
    elements: { point: { radius: 0 } },
    scales: {
      x: Object.assign({ type: 'linear', display: false, offset: false }, xs),
      y: Object.assign({ type: 'linear', display: false }, ys)
    }
  };
}
function text(ctx, s, x, y, font, color, align) {
  ctx.font = font; ctx.fillStyle = color || INK;
  ctx.textAlign = align || 'center'; ctx.textBaseline = 'middle';
  ctx.fillText(s, x, y);
}

// frame + ticks + tick labels, drawn with the chart's own scales
function framePlugin(cfg) {
  return {
    id: 'frame',
    afterDatasetsDraw(chart) {
      const { ctx, chartArea: a, scales: { x, y } } = chart;
      ctx.save();
      ctx.strokeStyle = '#2a2a2a';
      ctx.lineWidth = 1.5;
      cfg.xTicks.forEach(([v, len]) => {
        const p = x.getPixelForValue(v);
        seg(ctx, p, a.bottom, p, a.bottom - len);
        seg(ctx, p, a.top, p, a.top + len);
      });
      cfg.yTicks.forEach(([v, len]) => {
        const p = y.getPixelForValue(v);
        seg(ctx, a.left, p, a.left + len, p);
        seg(ctx, a.right, p, a.right - len, p);
      });
      ctx.lineWidth = 2.2;
      ctx.strokeRect(a.left, a.top, a.right - a.left, a.bottom - a.top);
      (cfg.xLabels || []).forEach(([v, s]) => text(ctx, s, x.getPixelForValue(v), cfg.xLabelY, cfg.xFont || '27px ' + IDL));
      (cfg.yLabels || []).forEach(([v, s]) => text(ctx, s, a.left - 11, Math.max(y.getPixelForValue(v), a.top + 13), '27px ' + IDL, INK, 'right'));
      if (cfg.extra) cfg.extra(ctx, a, x, y);
      ctx.restore();
    }
  };
}

// faint guide lines that sit behind the whole figure
const guidePlugin = {
  id: 'guides',
  beforeDatasetsDraw(chart) {
    const ctx = chart.ctx;
    ctx.save();
    ctx.strokeStyle = '#e2e2e2'; ctx.lineWidth = 1.5;
    [2, 170, 367, 563, 760, 1155].forEach(yy => seg(ctx, 0, yy, 1916, yy));
    seg(ctx, 341, 0, 341, H);
    ctx.restore();
  }
};

// ---------- top panels ----------
function topPanel(frame, xr, bin0, binW, obs, fitLam, fit, k, xTicks, xLabels, extra, plugins) {
  const datasets = [
    { data: obs.map((v, i) => ({ x: bin0 + i * binW, y: v })), stepped: 'middle', borderColor: '#1c1c1c', borderWidth: 2, order: 2 },
    { data: fitLam.map((l, i) => ({ x: l, y: fit[i] })), cubicInterpolationMode: 'monotone', borderColor: '#2323ff', borderWidth: 1.8, order: 1 },
    { data: [{ x: lineCenters[k], y: lineDepths[k] }, { x: lineCenters[k], y: 0.3 }], borderColor: '#333', borderWidth: 1.6, borderDash: [8, 6], order: 3 }
  ];
  const yTicks = seq(0.3, 1.2, 0.05).map(v => [v, Math.abs((v * 10) % 2) < 0.01 || Math.abs((v * 10) % 2 - 2) < 0.01 ? 11 : 6]);
  const cfg = { xTicks, yTicks, xLabels, xLabelY: 357, xFont: '28.5px ' + IDL,
    yLabels: k === 0 ? [[0.4, '0.4'], [0.6, '0.6'], [0.8, '0.8'], [1.0, '1.0'], [1.2, '1.2']] : [],
    extra(ctx, a, x, y) {
      const lx = x.getPixelForValue(lineCenters[k]);
      text(ctx, transitions[k], (a.left + a.right) / 2 + [25, 34, 22][k], 64, '36px ' + SANS, '#000');
      ctx.save(); ctx.translate(lx - 26, 282); ctx.rotate(-Math.PI / 2);
      text(ctx, lineIons[k], 0, 0, '33px ' + SANS, '#000'); ctx.restore();
      if (extra) extra(ctx, a, x, y);
    } };
  return new Chart(addCanvas(), {
    type: 'line', data: { datasets },
    options: baseOptions(frame, { min: xr[0], max: xr[1] }, { min: 0.3, max: 1.2 }),
    plugins: [...(plugins || []), framePlugin(cfg)]
  });
}

const aMajor = seq(5361.5, 5364.15, 2.65 / 3);
topPanel([136.5, 26.7, 690, 321.7], [5361.5, 5364.15], aBinStart, aBinWidth, aObs, aFitLam, aFit, 0,
  seq(5361.5, 5364.15, 2.65 / 15).map((v, i) => [v, i % 5 === 0 ? 10 : 5]),
  aMajor.map((v, i) => [v, aTickLabels[i]]),
  (ctx, a) => {
    text(ctx, '(a)', 172, 62, '30px ' + IDL, '#4a4a4a');
    ctx.save(); ctx.translate(48, 177); ctx.rotate(-Math.PI / 2);
    ctx.font = '30px ' + IDL; const w1 = ctx.measureText('I/I').width;
    ctx.font = '20px ' + IDL; const w2 = ctx.measureText('c').width;
    const x0 = -(w1 + w2) / 2;
    text(ctx, 'I/I', x0, 0, '30px ' + IDL, '#444', 'left');
    text(ctx, 'c', x0 + w1, 9, '20px ' + IDL, '#444', 'left');
    ctx.restore();
  }, [guidePlugin]);

topPanel([726, 26.7, 1280, 321.7], [5059.1, 5060.9], bBinStart, bBinWidth, bObs, bFitLam, bFit, 1,
  seq(5059.1, 5060.9, 0.1).map(v => [v, [5059.5, 5060, 5060.5].some(m => Math.abs(m - v) < 1e-6) ? 10 : 5]),
  [[5059.5, '5059.5'], [5060.0, '5060.0'], [5060.5, '5060.5']],
  ctx => {
    text(ctx, '(b)', 766, 62, '30px ' + IDL, '#4a4a4a');
    text(ctx, '\u03bb [\u00c5]', 1003, 396, '28px ' + IDL, '#333');
  });

topPanel([1317, 26.7, 1871, 321.7], [5165.4, 5167.1], cBinStart, cBinWidth, cObs, cFitLam, cFit, 2,
  seq(5165.4, 5167.1, 0.1).map(v => [v, [5165.5, 5166, 5166.5, 5167].some(m => Math.abs(m - v) < 1e-6) ? 10 : 5]),
  [[5165.5, '5165.5'], [5166.0, '5166.0'], [5166.5, '5166.5'], [5167.0, '5167.0']],
  ctx => text(ctx, '(c)', 1354, 62, '30px ' + IDL, '#4a4a4a'));

// ---------- Stokes panels ----------
function stokesPanel(p) {
  const datasets = [
    { data: [{ x: 0, y: p.yr[0] }, { x: 0, y: p.yr[1] }], borderColor: p.zeroColor, borderWidth: 1.5, borderDash: [9, 7], order: 5 }
  ];
  p.obs.forEach((row, k) => datasets.push({
    data: row.slice(0, p.vel.length).map((v, i) => ({ x: p.vel[i], y: p.shift[k] + v })),
    borderColor: '#363636', borderWidth: 1.6, tension: p.tension, order: 2 }));
  p.nul.forEach((row, k) => datasets.push({
    data: row.slice(0, p.vel.length).map((v, i) => ({ x: p.vel[i], y: p.shift[k] + v })),
    borderColor: '#f0466c', borderWidth: 1.6, tension: p.tension, order: 1 }));
  if (p.pol) datasets.push({
    type: 'bar', grouped: false, order: 4,
    data: p.pol.map((v, k) => ({ x: p.sqX, y: [p.shift[k] + p.sqDy - p.sqH, p.shift[k] + p.sqDy + p.sqH] })),
    backgroundColor: p.pol.map(jet), borderColor: '#111',
    borderWidth: { top: 2.5, bottom: 2.5, left: 0, right: 0 }, borderSkipped: false, barThickness: p.sqW
  });
  const cfg = {
    xTicks: p.xTickVals.map(v => [v, v % 20 === 0 ? 15 : 7]),
    yTicks: p.yTickVals.map(v => [v, 5]),
    xLabels: p.xLabels, xLabelY: 1243,
    extra(ctx, a, x, y) {
      ctx.save(); ctx.letterSpacing = '2px';
      text(ctx, p.title, a.left + p.titleDx, 447, '27px ' + IDL, INK, 'left');
      ctx.restore();
      if (p.bar) {
        const bx = x.getPixelForValue(p.bar[0]), b1 = y.getPixelForValue(p.bar[1]), b2 = y.getPixelForValue(p.bar[1] - 0.5);
        ctx.strokeStyle = '#333'; ctx.lineWidth = 1.7;
        seg(ctx, bx, b1, bx, b2); seg(ctx, bx - 4.5, b1, bx + 4.5, b1); seg(ctx, bx - 4.5, b2, bx + 4.5, b2);
        text(ctx, '0.5%', x.getPixelForValue(p.bar[2]), (b1 + b2) / 2 + 1, '27px ' + IDL, INK, 'left');
      }
      if (p.extra) p.extra(ctx, a, x, y);
    }
  };
  return new Chart(addCanvas(), {
    type: 'line', data: { datasets },
    options: baseOptions(p.frame, { min: p.xr[0], max: p.xr[1] }, { min: p.yr[0], max: p.yr[1] }),
    plugins: [framePlugin(cfg)]
  });
}

const dLabQ = [[-70, '\u221270'], [-35, '\u221235'], [0, '0'], [35, '35']];
const dLabU = [[-70, '\u221270'], [-35, '\u221235'], [0, '0'], [35, '35'], [70, '70']];
const efLab = [[-20, '\u221220'], [0, '0'], [20, '20'], [40, '40']];
const dY = [-0.35, 18.075], efY = [-0.19, 15.56];

stokesPanel({ frame: [136, 470, 413, 1207], xr: [-70, 70], yr: dY, vel: dVel, shift: rowShiftD,
  obs: dQobs, nul: dQnull, tension: 0.35, zeroColor: '#2a2a2a',
  pol: dPol, sqX: 51.3, sqW: 42, sqDy: 0.84, sqH: 0.39,
  xTickVals: seq(-70, 70, 5), yTickVals: seq(0, 18, 1), xLabels: dLabQ,
  title: 'STOKES Q/I', titleDx: 9,
  extra(ctx, a, x, y) {
    text(ctx, 'phase', 67, 450, '27px ' + IDL);
    phases.forEach((s, k) => text(ctx, s, 109, y.getPixelForValue(rowShiftD[k]) - 7, '28px ' + IDL, INK, 'right'));
    text(ctx, '(d)', 176, 507, '30px ' + IDL, '#444');
  } });
stokesPanel({ frame: [413, 470, 690, 1207], xr: [-70, 70], yr: dY, vel: dVel, shift: rowShiftD,
  obs: dUobs, nul: dUnull, tension: 0.35, zeroColor: '#2a2a2a',
  xTickVals: seq(-70, 70, 5), yTickVals: seq(0, 18, 1), xLabels: dLabU,
  title: 'STOKES U/I', titleDx: 9, bar: [12.9, 17.5, 15.6] });

stokesPanel({ frame: [726, 470, 1004, 1207], xr: [-39, 45], yr: efY, vel: eVel, shift: rowShiftEF,
  obs: eQobs, nul: eQnull, tension: 0, zeroColor: '#2a2a2a',
  pol: ePol, sqX: 33.3, sqW: 40, sqDy: 0.72, sqH: 0.33,
  xTickVals: seq(-35, 45, 5), yTickVals: seq(0, 15.5, 0.5), xLabels: efLab,
  title: 'STOKES Q/I', titleDx: 17,
  extra(ctx) {
    text(ctx, '(e)', 777, 504, '30px ' + IDL, '#444');
    ctx.font = '28px ' + IDL;
    const s1 = 'v  [km  s', w1 = ctx.measureText(s1).width;
    ctx.font = '19px ' + IDL; const w2 = ctx.measureText('\u22121').width;
    ctx.font = '28px ' + IDL; const w3 = ctx.measureText(']').width;
    const x0 = 966 - (w1 + w2 + w3) / 2;
    text(ctx, s1, x0, 1305, '28px ' + IDL, INK, 'left');
    text(ctx, '\u22121', x0 + w1, 1293, '19px ' + IDL, INK, 'left');
    text(ctx, ']', x0 + w1 + w2, 1305, '28px ' + IDL, INK, 'left');
  } });
stokesPanel({ frame: [1004, 470, 1280, 1207], xr: [-39, 45], yr: efY, vel: eVel, shift: rowShiftEF,
  obs: eUobs, nul: eUnull, tension: 0, zeroColor: '#2a2a2a',
  xTickVals: seq(-35, 45, 5), yTickVals: seq(0, 15.5, 0.5), xLabels: efLab,
  title: 'STOKES U/I', titleDx: 15, bar: [14, 15.06, 18.3] });

stokesPanel({ frame: [1317, 470, 1594, 1207], xr: [-31, 45], yr: efY, vel: fVel, shift: rowShiftEF,
  obs: fQobs, nul: fQnull, tension: 0, zeroColor: '#8a8a8a',
  pol: fPol, sqX: 34, sqW: 40, sqDy: 0.72, sqH: 0.33,
  xTickVals: seq(-30, 45, 5), yTickVals: seq(0, 15.5, 0.5), xLabels: efLab,
  title: 'STOKES Q/I', titleDx: 7,
  extra(ctx) { text(ctx, '(f)', 1353, 505, '30px ' + IDL, '#444'); } });
stokesPanel({ frame: [1594, 470, 1870.5, 1207], xr: [-31, 45], yr: efY, vel: fVel, shift: rowShiftEF,
  obs: fUobs, nul: fUnull, tension: 0, zeroColor: '#8a8a8a',
  xTickVals: seq(-30, 45, 5), yTickVals: seq(0, 15.5, 0.5), xLabels: efLab,
  title: 'STOKES U/I', titleDx: 7, bar: [14.2, 15.06, 18.4] });

// ---------- colour bar ----------
function jetGradient(chart) {
  const { ctx, chartArea, scales } = chart;
  if (!chartArea) return null;
  const y = scales.y;
  const g = ctx.createLinearGradient(0, y.getPixelForValue(0), 0, y.getPixelForValue(polMax));
  [0, 0.125, 0.375, 0.625, 0.875, 1].forEach(t => g.addColorStop(t, jet(t * polMax)));
  return g;
}
const cbOpts = baseOptions([1895, 470, 1939, 1208], { type: 'category', offset: true }, { min: 0, max: polMax });
new Chart(addCanvas(), {
  type: 'bar',
  data: { labels: [''], datasets: [{ data: [[0, polMax]], backgroundColor: c => jetGradient(c.chart), borderWidth: 0, barPercentage: 1, categoryPercentage: 1 }] },
  options: cbOpts,
  plugins: [{
    id: 'cbFrame',
    afterDatasetsDraw(chart) {
      const { ctx, chartArea: a, scales: { y } } = chart;
      ctx.save();
      ctx.strokeStyle = '#333'; ctx.lineWidth = 2;
      seq(0.5, 4, 0.5).forEach(v => { const p = y.getPixelForValue(v); seg(ctx, a.right, p, a.right - 8, p); });
      ctx.strokeStyle = '#4a4a4a'; ctx.lineWidth = 2;
      ctx.strokeRect(a.left, a.top, a.right - a.left, a.bottom - a.top);
      polTicks.forEach(v => text(ctx, String(v), 1966, y.getPixelForValue(v), '35px ' + SANS, '#000'));
      text(ctx, 'P/\u03c4(%)', 1934, 443, 'bold 31px ' + SANS, '#000');
      ctx.restore();
    }
  }]
});
</script>
</body>
</html>
